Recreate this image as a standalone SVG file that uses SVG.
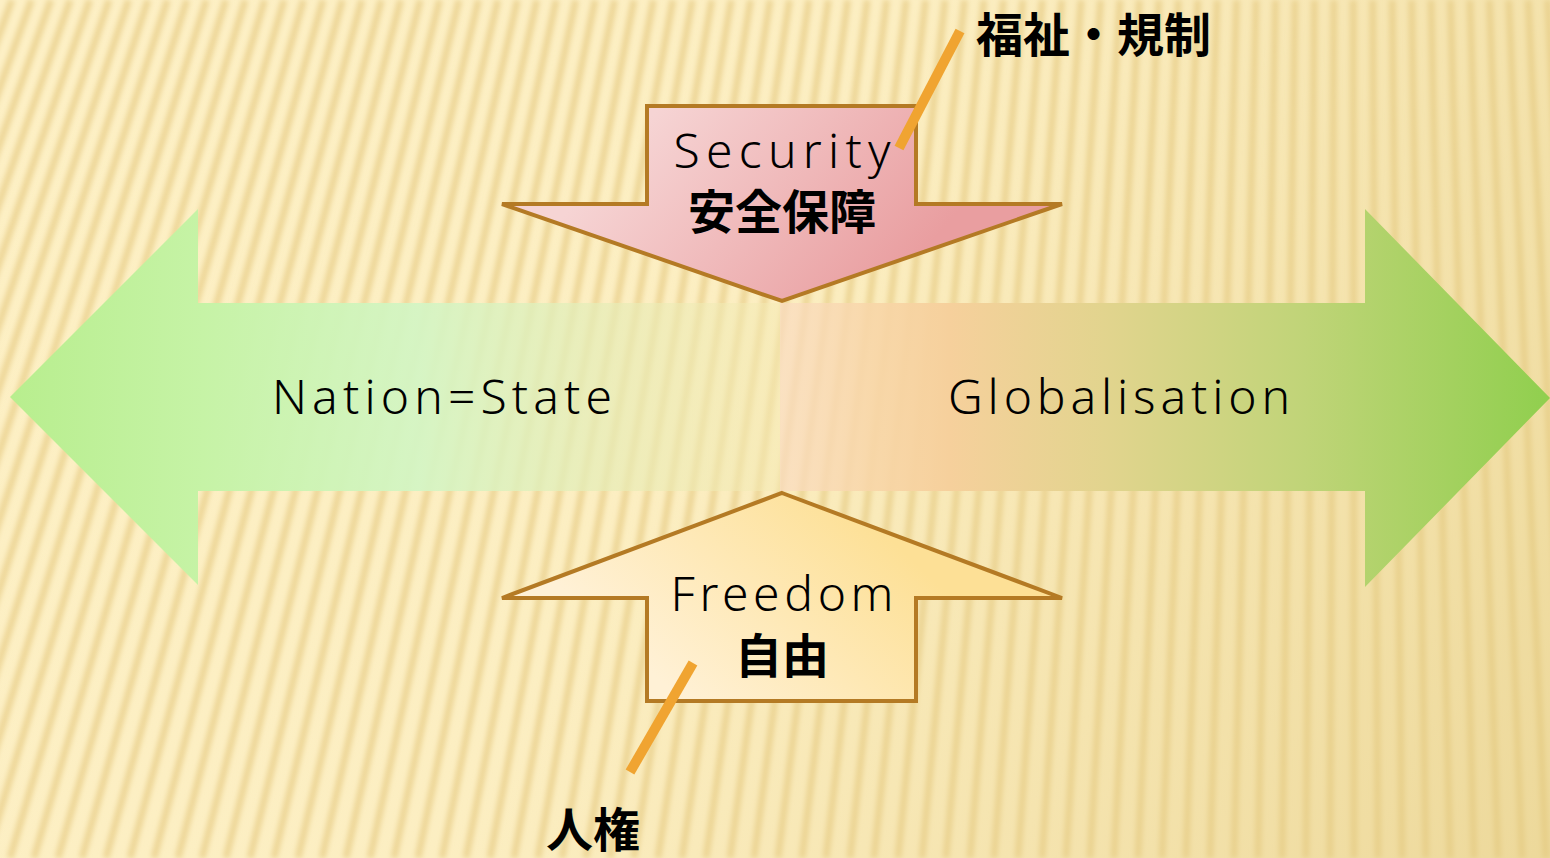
<svg xmlns="http://www.w3.org/2000/svg" width="1550" height="858" viewBox="0 0 1550 858">
<style>
.lat{font-family:"Noto Sans","DejaVu Sans",sans-serif;font-weight:300;font-size:48px;fill:#000}
.jp{font-family:"Noto Sans CJK JP","Noto Sans CJK SC",sans-serif;font-weight:700;font-size:47px;fill:#000}
.frame{stroke:#b47a24;stroke-width:4;stroke-linejoin:miter}
.call{stroke:#f0a431;stroke-width:10;stroke-linecap:butt}
</style>
<defs>
<filter id="blur" x="-5%" y="-5%" width="110%" height="110%"><feGaussianBlur stdDeviation="2.5"/></filter>
<linearGradient id="bgshade" x1="0" y1="0" x2="1550" y2="858" gradientUnits="userSpaceOnUse">
<stop offset="0" stop-color="#e8cf88" stop-opacity="0"/>
<stop offset="0.45" stop-color="#e8cf88" stop-opacity="0.05"/>
<stop offset="1" stop-color="#e2c97e" stop-opacity="0.6"/>
</linearGradient>
<linearGradient id="leftG" x1="10" y1="0" x2="780" y2="0" gradientUnits="userSpaceOnUse">
<stop offset="0" stop-color="#b8ee8e"/>
<stop offset="0.25" stop-color="#c6f3a6"/>
<stop offset="0.53" stop-color="#d4f5c4" stop-opacity="0.95"/>
<stop offset="0.8" stop-color="#e8ecb6" stop-opacity="0.7"/>
<stop offset="1" stop-color="#f5eab4" stop-opacity="0.5"/>
</linearGradient>
<linearGradient id="rightG" x1="780" y1="0" x2="1550" y2="0" gradientUnits="userSpaceOnUse">
<stop offset="0" stop-color="#fadcc2" stop-opacity="0.7"/>
<stop offset="0.12" stop-color="#f8d6a8" stop-opacity="0.9"/>
<stop offset="0.22" stop-color="#f6d09c"/>
<stop offset="0.42" stop-color="#e2d48e"/>
<stop offset="0.68" stop-color="#c0d478"/>
<stop offset="1" stop-color="#90cf4e"/>
</linearGradient>
<linearGradient id="pinkG" x1="660" y1="106" x2="880" y2="300" gradientUnits="userSpaceOnUse">
<stop offset="0" stop-color="#f6d4d4"/>
<stop offset="1" stop-color="#e99ea0"/>
</linearGradient>
<linearGradient id="yelG" x1="860" y1="510" x2="680" y2="700" gradientUnits="userSpaceOnUse">
<stop offset="0" stop-color="#fde096"/>
<stop offset="1" stop-color="#fff1d6"/>
</linearGradient>
</defs>

<g id="background">
<rect x="0" y="0" width="1550" height="858" fill="#fdf0c5"/>
<path filter="url(#blur)" fill="none" stroke="#ebd290" stroke-width="7" stroke-opacity="0.85" d="M-374 858L-46.4 0M-350 858L-27 0M-326 858L-7.5 0M-302 858L11.9 0M-278 858L31.4 0M-254 858L50.8 0M-230 858L70.2 0M-206 858L89.7 0M-182 858L109.1 0M-158 858L128.6 0M-134 858L148 0M-110 858L167.4 0M-86 858L186.9 0M-62 858L206.3 0M-38 858L225.8 0M-14 858L245.2 0M10 858L264.6 0M34 858L284.1 0M58 858L303.5 0M82 858L323 0M106 858L342.4 0M130 858L361.8 0M154 858L381.3 0M178 858L400.7 0M202 858L420.2 0M226 858L439.6 0M250 858L459 0M274 858L478.5 0M298 858L497.9 0M322 858L517.4 0M346 858L536.8 0M370 858L556.2 0M394 858L575.7 0M418 858L595.1 0M442 858L614.6 0M466 858L634 0M490 858L653.4 0M514 858L672.9 0M538 858L692.3 0M562 858L711.8 0M586 858L731.2 0M610 858L750.6 0M634 858L770.1 0M658 858L789.5 0M682 858L809 0M706 858L828.4 0M730 858L847.8 0M754 858L867.3 0M778 858L886.7 0M802 858L906.2 0M826 858L925.6 0M850 858L945 0M874 858L964.5 0M898 858L983.9 0M922 858L1003.4 0M946 858L1022.8 0M970 858L1042.2 0M994 858L1061.7 0M1018 858L1081.1 0M1042 858L1100.6 0M1066 858L1120 0M1090 858L1139.4 0M1114 858L1158.9 0M1138 858L1178.3 0M1162 858L1197.8 0M1186 858L1217.2 0M1210 858L1236.6 0M1234 858L1256.1 0M1258 858L1275.5 0M1282 858L1295 0M1306 858L1314.4 0M1330 858L1333.8 0M1354 858L1353.3 0M1378 858L1372.7 0M1402 858L1392.2 0M1426 858L1411.6 0M1450 858L1431 0M1474 858L1450.5 0M1498 858L1469.9 0M1522 858L1489.4 0M1546 858L1508.8 0M1570 858L1528.2 0M1594 858L1547.7 0M1618 858L1567.1 0"/>
<rect x="0" y="0" width="1550" height="858" fill="url(#bgshade)"/>
</g>

<g id="axis-arrow">
<polygon id="nation-state-arrow" points="10,397 198,209 198,303 781,303 781,491 198,491 198,585" fill="url(#leftG)"/>
<polygon id="globalisation-arrow" points="780,303 1365,303 1365,209 1550,398 1365,587 1365,491 780,491" fill="url(#rightG)"/>
<text class="lat" x="442" y="414" text-anchor="middle" textLength="340" lengthAdjust="spacing">Nation=State</text>
<text class="lat" x="1119" y="414" text-anchor="middle" textLength="342" lengthAdjust="spacing">Globalisation</text>
</g>

<g id="security">
<polygon class="frame" points="647,106 916,106 916,204 1062,204 782,301 502,204 647,204" fill="url(#pinkG)"/>
<text class="lat" x="782" y="168" text-anchor="middle" textLength="217" lengthAdjust="spacing">Security</text>
<text class="jp" x="782" y="229" text-anchor="middle">安全保障</text>
</g>

<g id="freedom">
<polygon class="frame" points="782,493 1062,598 916,598 916,701 647,701 647,598 502,598" fill="url(#yelG)"/>
<text class="lat" x="782" y="611" text-anchor="middle" textLength="223" lengthAdjust="spacing">Freedom</text>
<text class="jp" x="782" y="673" text-anchor="middle">自由</text>
</g>

<g id="connectors">
<line class="call" x1="960" y1="31" x2="899" y2="148"/>
<line class="call" x1="693" y1="663" x2="630" y2="772"/>
</g>

<g id="welfare-label">
<text class="jp" x="976" y="52">福祉・規制</text>
</g>
<g id="human-rights-label">
<text class="jp" x="593" y="847" text-anchor="middle">人権</text>
</g>
</svg>
